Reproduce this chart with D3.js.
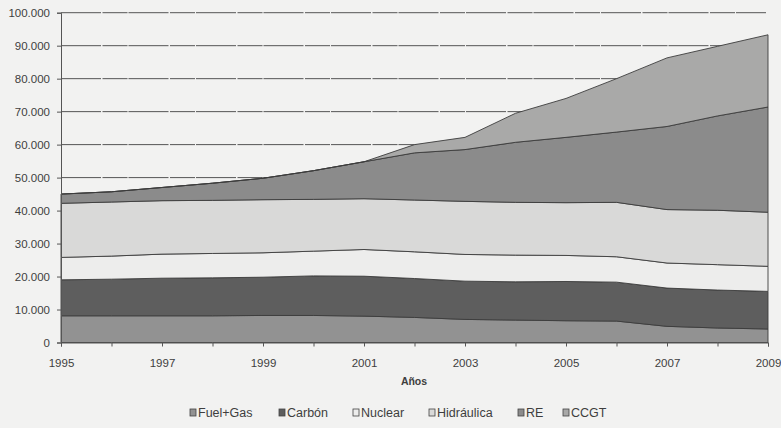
<!DOCTYPE html>
<html>
<head>
<meta charset="utf-8">
<script src="https://cdn.jsdelivr.net/npm/d3@7/dist/d3.min.js"></script>
<style>
  html, body { margin: 0; padding: 0; background: #f2f2f1; }
  svg { display: block; }
  text { font-family: "Liberation Sans", Arial, sans-serif; fill: #3e3e3e; }
</style>
</head>
<body>
<svg id="chart" width="781" height="428"></svg>
<script>
// Potencia instalada por tecnología (MW), 1995–2009
const years = [1995, 1996, 1997, 1998, 1999, 2000, 2001, 2002, 2003, 2004, 2005, 2006, 2007, 2008, 2009];
const fuelGas    = [8100, 8100, 8100, 8100, 8200, 8200, 8000, 7600, 7000, 6800, 6600, 6500, 4900, 4400, 4100];
const carbon     = [10900, 11100, 11400, 11500, 11600, 12000, 12100, 11800, 11600, 11600, 11900, 11800, 11600, 11500, 11400];
const nuclear    = [6800, 7000, 7300, 7400, 7400, 7500, 8100, 8100, 8100, 8100, 7900, 7700, 7600, 7700, 7600];
const hidraulica = [16400, 16400, 16200, 16100, 16100, 15700, 15400, 15700, 16100, 16000, 16000, 16500, 16200, 16500, 16400];
const re         = [2800, 3100, 4000, 5200, 6500, 8700, 11200, 14300, 15700, 18200, 19800, 21300, 25200, 28600, 31900];
const ccgt       = [0, 0, 0, 0, 0, 0, 0, 2500, 3700, 8800, 11800, 16200, 20800, 21100, 21900];

const seriesNames = ["Fuel+Gas", "Carbón", "Nuclear", "Hidráulica", "RE", "CCGT"];
const seriesValues = [fuelGas, carbon, nuclear, hidraulica, re, ccgt];
const seriesColors = ["#929292", "#5e5e5e", "#ededec", "#d9d9d8", "#8b8b8b", "#a9a9a8"];
const yTicks = [0, 10000, 20000, 30000, 40000, 50000, 60000, 70000, 80000, 90000, 100000];
const xLabelYears = [1995, 1997, 1999, 2001, 2003, 2005, 2007, 2009];

const rows = years.map((yr, i) => {
  const r = { year: yr };
  seriesNames.forEach((n, k) => { r[n] = seriesValues[k][i]; });
  return r;
});

const svg = d3.select("#chart");
const plotLeft = 61, plotRight = 768, plotTop = 12.7, plotBottom = 342.5;

const x = d3.scaleLinear().domain([1995, 2009]).range([plotLeft, plotRight]);
const y = d3.scaleLinear().domain([0, 100000]).range([plotBottom, plotTop]);

const es = d3.formatLocale({ decimal: ",", thousands: ".", grouping: [3], currency: ["", " €"] });
const fmt = es.format(",");

// horizontal gridlines
svg.append("g")
  .selectAll("line")
  .data(yTicks.filter(v => v > 0))
  .join("line")
  .attr("x1", plotLeft).attr("x2", plotRight - 2)
  .attr("y1", d => y(d)).attr("y2", d => y(d))
  .attr("stroke", "#555")
  .attr("stroke-width", 1)
  .attr("stroke-dasharray", "40,1.5,25,1");

// stacked areas
const stack = d3.stack().keys(seriesNames);
const layers = stack(rows);
const area = d3.area()
  .x(d => x(d.data.year))
  .y0(d => y(d[0]))
  .y1(d => y(d[1]));

svg.append("g")
  .selectAll("path")
  .data(layers)
  .join("path")
  .attr("d", area)
  .attr("fill", (d, i) => seriesColors[i])
  .attr("stroke", "#3c3c3c")
  .attr("stroke-width", 0.9)
  .attr("stroke-linejoin", "round");

// y axis
const yAxis = svg.append("g")
  .attr("transform", `translate(${plotLeft},0)`)
  .call(d3.axisLeft(y).tickValues(yTicks).tickFormat(fmt).tickSize(4).tickPadding(7));
yAxis.select(".domain").attr("stroke", "#555");
yAxis.selectAll(".tick line").attr("stroke", "#555");
yAxis.selectAll(".tick text")
  .style("font-family", "'Liberation Sans', Arial, sans-serif")
  .style("font-size", "11.5px")
  .attr("fill", "#3e3e3e");

// x axis
const xAxis = svg.append("g")
  .attr("transform", `translate(0,${plotBottom})`)
  .call(d3.axisBottom(x).tickValues(years)
    .tickFormat(d => xLabelYears.includes(d) ? String(d) : "")
    .tickSize(4).tickPadding(12));
xAxis.select(".domain").attr("stroke", "#555");
xAxis.selectAll(".tick line").attr("stroke", "#555");
xAxis.selectAll(".tick text")
  .style("font-family", "'Liberation Sans', Arial, sans-serif")
  .style("font-size", "11.5px")
  .attr("fill", "#3e3e3e");

// axis title
svg.append("text")
  .attr("x", 414).attr("y", 385)
  .attr("text-anchor", "middle")
  .style("font-size", "10.5px")
  .style("font-weight", "bold")
  .text("Años");

// legend
const legendX = [190, 279, 353, 429, 518, 563];
const legend = svg.append("g").attr("transform", "translate(0,413)");
const items = legend.selectAll("g")
  .data(seriesNames)
  .join("g")
  .attr("transform", (d, i) => `translate(${legendX[i]},0)`);
items.append("rect")
  .attr("x", 0).attr("y", -4)
  .attr("width", 6).attr("height", 7)
  .attr("fill", (d, i) => seriesColors[i])
  .attr("stroke", "#444")
  .attr("stroke-width", 0.8);
items.append("text")
  .attr("x", 8).attr("y", 4)
  .style("font-size", "12.5px")
  .text(d => d);
</script>
</body>
</html>
